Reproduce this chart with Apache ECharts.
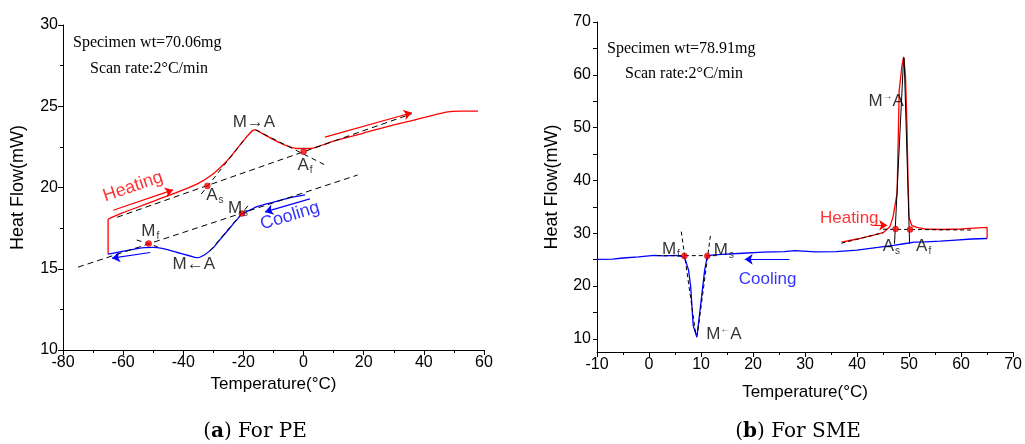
<!DOCTYPE html>
<html>
<head>
<meta charset="utf-8">
<script src="https://cdn.jsdelivr.net/npm/echarts@6/dist/echarts.min.js"></script>
<style>
  html, body { margin: 0; padding: 0; background: #fff; }
  #chart { width: 1025px; height: 444px; }
</style>
</head>
<body>
<div id="chart"></div>
<script>
// ---- (a) PE : DSC trace, temperature (°C) vs heat flow (mW) ----
const peHeating = [[-65,18.05],[-60,18.45],[-55,18.8],[-50,19.15],[-45,19.5],[-40,19.85],[-35,20.25],[-30,20.85],[-27,21.35],[-24,21.95],[-21,22.65],[-19,23.1],[-17,23.5],[-16,23.55],[-14,23.35],[-10,22.95],[-6,22.6],[-2,22.4],[2,22.4],[6,22.6],[10,22.85],[20,23.35],[30,23.85],[40,24.3],[48,24.65],[52,24.7],[58,24.7]];
const peStep = [[-65,15.9],[-65,18.05]];
const peCooling = [[0.5,19.55],[-5,19.35],[-10,19.1],[-15,18.85],[-18,18.6],[-20.5,18.35],[-22,18.05],[-25,17.4],[-28,16.75],[-30,16.3],[-33,15.85],[-35.5,15.68],[-38,15.8],[-42,16.0],[-47,16.25],[-50,16.32],[-53,16.3],[-58,16.15],[-65,15.9]];
const peUpperBase = [[-62,18.17],[36,24.54]];
const peLowerBase = [[-75,15.1],[18,20.77]];
const peTangents = [
  [[-34,19.6],[-19,23.1]],
  [[-16,23.55],[7,21.4]],
  [[-18.5,18.87],[-32,15.9]],
  [[-55.5,16.77],[-48.5,16.35]]
];
const pePoints = [[-32,20.1],[0,22.2],[-20.5,18.4],[-51.5,16.55]];
const peRedArrows = [[[-63.3,18.6],[-43.4,19.85]], [[7.1,23.1],[36,24.6]]];
const peBlueArrows = [[[2.1,19.3],[-12.8,18.5]], [[-51,16.0],[-63.7,15.65]]];

// ---- (b) SME ----
const smeHeating = [[37,28.3],[40,28.9],[43,29.6],[45,30.1],[46.3,31.2],[46.9,33],[47.7,37.6],[48.1,57],[48.6,61.5],[48.95,63.4],[49.3,60],[49.6,50],[49.8,40],[50.0,33],[50.5,31.5],[51.5,31.1],[53,30.8],[56,30.7],[60,30.8],[65,31.1],[65,29.0]];
const smeCooling = [[65,29.0],[62,28.9],[59,28.7],[56,28.5],[53,28.35],[51,28.3],[49,28.0],[47,27.7],[44,27.3],[40,26.8],[36,26.5],[32,26.45],[28,26.7],[26,26.5],[22,26.4],[18,26.2],[14,26.0],[12,25.85],[11.2,25.6],[10.7,23],[10.1,17.9],[9.2,10.3],[8.5,12.5],[8.0,20],[7.6,23],[6.8,25.5],[5,25.8],[3,25.7],[1,25.8],[-2,25.5],[-5,25.3],[-7,25.1],[-10,25.05]];
const smeBase = [[[37,28.1],[45,30.1]], [[45,30.75],[62,30.6]], [[1.5,25.75],[13,25.75]]];
const smeTangents = [[[6.2,30.3],[9.0,10.8]], [[11.8,29.5],[9.3,10.8]]];
const smePeakLines = [[[47.2,28.0],[48.95,63.2]], [[49.05,63.2],[50.1,28.0]]];
const smePoints = [[47.4,30.8],[50.2,30.7],[6.8,25.7],[11.2,25.7]];
const smeRedArrows = [[[43.5,31.5],[45.8,31.5]]];
const smeBlueArrows = [[[27,25.05],[18.4,25.05]]];

// axis ranges and tick values
const peXTicks = [-80,-60,-40,-20,0,20,40,60];
const peYTicks = [10,15,20,25,30];
const smeXTicks = [-10,0,10,20,30,40,50,60,70];
const smeYTicks = [10,20,30,40,50,60,70];
const smeYTickMarks = [10,15,20,25,30,35,40,45,50,55,60,65,70];

const RED = '#ff0000', BLUE = '#0000ff', BLACK = '#000000';
const SANS = '"Liberation Sans", Arial, sans-serif';
const SERIF = '"Liberation Serif", "Times New Roman", serif';
const CAPTION = '"DejaVu Serif", serif';

function xAxisCfg(grid, min, max, interval, nameGap) {
  return {
    type: 'value', gridIndex: grid, min, max, interval,
    name: 'Temperature(°C)', nameLocation: 'middle', nameGap,
    nameTextStyle: { fontFamily: SANS, fontSize: 17, color: BLACK },
    axisLine: { show: true, onZero: false, lineStyle: { color: BLACK, width: 1 } },
    axisTick: { show: true, inside: false, length: 5, lineStyle: { color: BLACK } },
    minorTick: { show: true, splitNumber: 2, length: 3, lineStyle: { color: BLACK } },
    splitLine: { show: false },
    axisLabel: { fontFamily: SANS, fontSize: 16, color: BLACK, margin: 5 }
  };
}

function line(data, color, grid, opts) {
  return Object.assign({
    type: 'line', xAxisIndex: grid, yAxisIndex: grid, data,
    showSymbol: false, symbol: 'none', silent: true,
    lineStyle: { color, width: 1.3 }, z: 3
  }, opts || {});
}

function segments(list, color, grid, type, width) {
  return list.map(seg => ({
    type: 'line', xAxisIndex: grid, yAxisIndex: grid, data: seg,
    showSymbol: false, symbol: 'none', silent: true,
    lineStyle: { color, width: width || 1, type: type || 'solid' }, z: 4
  }));
}

function arrows(list, color, grid) {
  return {
    type: 'lines', coordinateSystem: 'cartesian2d', xAxisIndex: grid, yAxisIndex: grid,
    silent: true, symbol: ['none', 'arrow'], symbolSize: [0, 8],
    lineStyle: { color, width: 1.2, opacity: 1, curveness: 0 },
    data: list.map(c => ({ coords: c })), z: 5
  };
}

function points(data, grid) {
  return {
    type: 'scatter', xAxisIndex: grid, yAxisIndex: grid, data,
    symbol: 'circle', symbolSize: 6, silent: true,
    itemStyle: { color: RED, borderColor: '#a00000', borderWidth: 0.5 }, z: 6
  };
}

const rich = {
  m: { fontFamily: SANS, fontSize: 17, color: BLACK, lineHeight: 20 },
  s: { fontFamily: SANS, fontSize: 10, color: BLACK, lineHeight: 20, verticalAlign: 'bottom', padding: [12, 0, 0, 1] },
  ar: { fontFamily: SANS, fontSize: 10, color: BLACK, lineHeight: 20, verticalAlign: 'top', padding: [0, 0, 8, 0] }
};

function labels(items, grid) {
  return {
    type: 'scatter', xAxisIndex: grid, yAxisIndex: grid, silent: true,
    symbolSize: 0, z: 7,
    data: items.map(it => ({
      value: it.at,
      label: {
        show: true, position: 'inside', formatter: it.text, rich,
        rotate: it.rotate || 0,
        color: it.color || BLACK, fontFamily: SANS, fontSize: it.size || 17
      }
    }))
  };
}

const peLabels = [
  { at: [-16.5, 24.0], text: '{m|M→A}' },
  { at: [-36.5, 15.3], text: '{m|M←A}' },
  { at: [0.5, 21.35], text: '{m|A}{s|f}' },
  { at: [-29.5, 19.55], text: '{m|A}{s|s}' },
  { at: [-21.8, 18.75], text: '{m|M}{s|s}' },
  { at: [-51, 17.3], text: '{m|M}{s|f}' },
  { at: [-56.7, 20.05], text: 'Heating', color: RED, rotate: 19, size: 18 },
  { at: [-4.5, 18.25], text: 'Cooling', color: BLUE, rotate: 17, size: 18 }
];

const smeLabels = [
  { at: [45.6, 54.9], text: '{m|M}{ar|→}{m|A}' },
  { at: [14.4, 10.9], text: '{m|M}{ar|←}{m|A}' },
  { at: [46.6, 27.6], text: '{m|A}{s|s}' },
  { at: [52.8, 27.6], text: '{m|A}{s|f}' },
  { at: [4.2, 27.0], text: '{m|M}{s|f}' },
  { at: [14.4, 26.8], text: '{m|M}{s|s}' },
  { at: [38.5, 32.8], text: 'Heating', color: RED, size: 17 },
  { at: [22.8, 21.2], text: 'Cooling', color: BLUE, size: 17 }
];

const yNameStyle = { fontFamily: SANS, fontSize: 18, color: BLACK };

const option = {
  animation: false,
  backgroundColor: '#ffffff',
  grid: [
    { left: 63, right: 541, top: 25, bottom: 94 },
    { left: 597, right: 11, top: 22, bottom: 92 }
  ],
  xAxis: [
    xAxisCfg(0, peXTicks[0], peXTicks[peXTicks.length - 1], 20, 26),
    xAxisCfg(1, smeXTicks[0], smeXTicks[smeXTicks.length - 1], 10, 32)
  ],
  yAxis: [
    {
      type: 'value', gridIndex: 0, min: peYTicks[0], max: peYTicks[peYTicks.length - 1], interval: 5,
      name: 'Heat Flow(mW)', nameLocation: 'middle', nameGap: 36, nameTextStyle: yNameStyle,
      axisLine: { show: true, onZero: false, lineStyle: { color: BLACK } },
      axisTick: { show: true, length: 5, lineStyle: { color: BLACK } },
      minorTick: { show: true, splitNumber: 2, length: 3, lineStyle: { color: BLACK } },
      splitLine: { show: false },
      axisLabel: { fontFamily: SANS, fontSize: 16, color: BLACK, margin: 5 }
    },
    {
      // the SME axis starts a little below 10, ticks are placed at fixed values
      type: 'value', gridIndex: 1, position: 'left', min: 7.5, max: smeYTicks[smeYTicks.length - 1],
      name: 'Heat Flow(mW)', nameLocation: 'middle', nameGap: 36, nameTextStyle: yNameStyle,
      axisLine: { show: true, onZero: false, lineStyle: { color: BLACK } },
      axisTick: { show: true, length: 4, customValues: smeYTickMarks, lineStyle: { color: BLACK } },
      splitLine: { show: false },
      axisLabel: { fontFamily: SANS, fontSize: 16, color: BLACK, margin: 6, customValues: smeYTicks }
    }
  ],
  graphic: [
    { type: 'text', style: { text: 'Specimen wt=70.06mg', x: 73, y: 43, font: '16px ' + SERIF, fill: BLACK, verticalAlign: 'middle', textVerticalAlign: 'middle' } },
    { type: 'text', style: { text: 'Scan rate:2°C/min', x: 90, y: 69, font: '16px ' + SERIF, fill: BLACK, verticalAlign: 'middle', textVerticalAlign: 'middle' } },
    { type: 'text', style: { text: 'Specimen wt=78.91mg', x: 607, y: 49, font: '16px ' + SERIF, fill: BLACK, verticalAlign: 'middle', textVerticalAlign: 'middle' } },
    { type: 'text', style: { text: 'Scan rate:2°C/min', x: 625, y: 74, font: '16px ' + SERIF, fill: BLACK, verticalAlign: 'middle', textVerticalAlign: 'middle' } },
    { type: 'text', style: { text: '({b|a}) For PE', x: 255, y: 432, font: '20px ' + CAPTION, fill: BLACK, align: 'center', textAlign: 'center', verticalAlign: 'middle', textVerticalAlign: 'middle',
      rich: { b: { font: 'bold 20px ' + CAPTION, fill: BLACK } } } },
    { type: 'text', style: { text: '({b|b}) For SME', x: 798, y: 432, font: '20px ' + CAPTION, fill: BLACK, align: 'center', textAlign: 'center', verticalAlign: 'middle', textVerticalAlign: 'middle',
      rich: { b: { font: 'bold 20px ' + CAPTION, fill: BLACK } } } }
  ],
  series: [
    // (a) PE
    ...segments([peUpperBase, peLowerBase], BLACK, 0, [6, 4], 1),
    ...segments(peTangents, BLACK, 0, [5, 4], 1),
    line(peHeating, RED, 0, { smooth: 0.3 }),
    line(peStep, RED, 0),
    line(peCooling, BLUE, 0, { smooth: 0.3 }),
    points(pePoints, 0),
    arrows(peRedArrows, RED, 0),
    arrows(peBlueArrows, BLUE, 0),
    labels(peLabels, 0),
    // (b) SME
    line(smeCooling, BLUE, 1),
    line(smeHeating, RED, 1),
    ...segments(smeBase, BLACK, 1, [4, 3], 1),
    ...segments(smeTangents, BLACK, 1, [4, 3], 1),
    ...segments(smePeakLines, BLACK, 1, 'solid', 1),
    points(smePoints, 1),
    arrows(smeRedArrows, RED, 1),
    arrows(smeBlueArrows, BLUE, 1),
    labels(smeLabels, 1)
  ]
};

const chart = echarts.init(document.getElementById('chart'), null, { renderer: 'canvas' });
chart.setOption(option);
</script>
</body>
</html>
